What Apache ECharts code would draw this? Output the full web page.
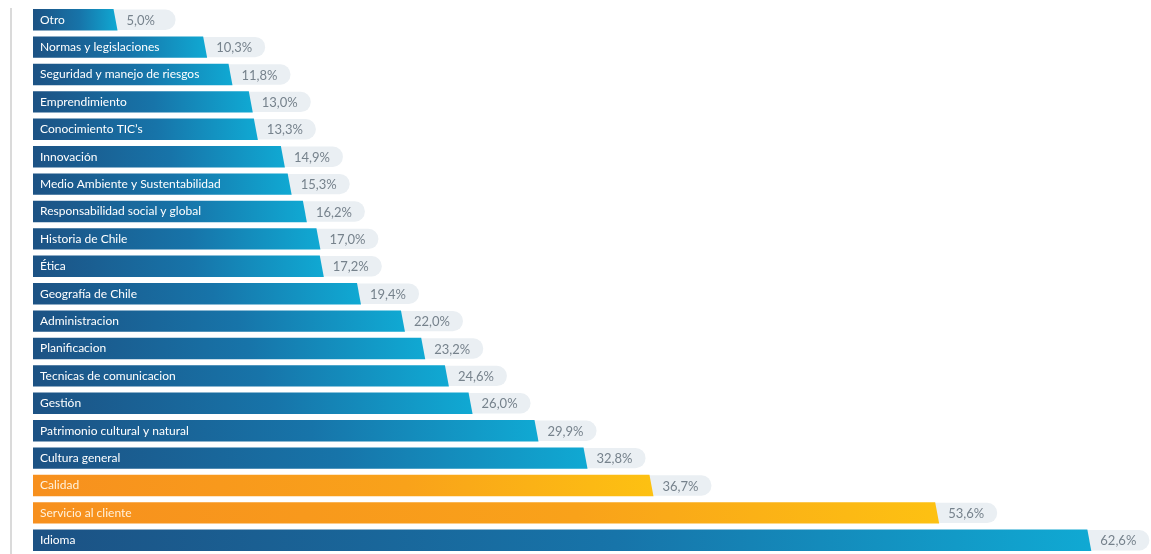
<!DOCTYPE html>
<html>
<head>
<meta charset="utf-8">
<script src="https://cdn.jsdelivr.net/npm/echarts@6/dist/echarts.min.js"></script>
<style>
  html, body { margin: 0; padding: 0; background: #ffffff; }
  #chart { width: 1151px; height: 554px; }
</style>
</head>
<body>
<div id="chart"></div>
<script>
const categories = [
  'Otro', 'Normas y legislaciones', 'Seguridad y manejo de riesgos', 'Emprendimiento',
  'Conocimiento TIC\u2019s', 'Innovación', 'Medio Ambiente y Sustentabilidad',
  'Responsabilidad social y global', 'Historia de Chile', 'Ética', 'Geografía de Chile',
  'Administracion', 'Planificacion', 'Tecnicas de comunicacion', 'Gestión',
  'Patrimonio cultural y natural', 'Cultura general', 'Calidad', 'Servicio al cliente', 'Idioma'
];
const values = [5.0, 10.3, 11.8, 13.0, 13.3, 14.9, 15.3, 16.2, 17.0, 17.2, 19.4,
  22.0, 23.2, 24.6, 26.0, 29.9, 32.8, 36.7, 53.6, 62.6];
const highlighted = ['Calidad', 'Servicio al cliente'];

const chart = echarts.init(document.getElementById('chart'), null, { renderer: 'canvas' });

const seriesData = values.map((v, i) => [v, i]);

function fmt(v) { return v.toFixed(1).replace('.', ',') + '%'; }

const FONT = '"Lato", "Noto Sans", sans-serif';

chart.setOption({
  animation: false,
  graphic: [{
    type: 'line',
    shape: { x1: 11, y1: 8, x2: 11, y2: 554 },
    style: { stroke: '#dadada', lineWidth: 2 },
    z: 0
  }],
  grid: { left: 33, top: 6, width: 1082, height: 552, containLabel: false },
  xAxis: {
    type: 'value', min: 0, max: 64, show: false
  },
  yAxis: {
    type: 'category', data: categories, inverse: true,
    axisLine: { show: false },
    axisTick: { show: false }, axisLabel: { show: false }, splitLine: { show: false }
  },
  series: [{
    type: 'custom',
    data: seriesData,
    encode: { x: 0, y: 1 },
    clip: false,
    renderItem: function (params, api) {
      const v = api.value(0);
      const c = api.value(1);
      const name = categories[c];
      const end = api.coord([v, c]);
      const start = api.coord([0, c]);
      const band = api.size([0, 1])[1];
      const h = band * 0.78;
      const y0 = end[1] - h / 2;
      const isHi = highlighted.indexOf(name) >= 0;
      const grad = isHi
        ? new echarts.graphic.LinearGradient(0, 0, 1, 0, [
            { offset: 0, color: '#f7901e' }, { offset: 0.6, color: '#f9a21a' }, { offset: 1, color: '#fdc112' }])
        : new echarts.graphic.LinearGradient(0, 0, 1, 0, [
            { offset: 0, color: '#1c5284' }, { offset: 0.55, color: '#1774a9' }, { offset: 1, color: '#10a9d3' }]);
      return {
        type: 'group',
        children: [
          {
            type: 'rect',
            shape: { x: end[0] - 14, y: y0 + 0.5, width: 14 + 58, height: h - 1, r: 10 },
            style: { fill: '#eaeff3' }
          },
          {
            type: 'polygon',
            shape: { points: [[start[0], y0], [end[0] - 4, y0], [end[0], y0 + h], [start[0], y0 + h]] },
            style: { fill: grad }
          },
          {
            type: 'text',
            style: {
              text: name, x: start[0] + 7, y: end[1],
              verticalAlign: 'middle', align: 'left',
              fill: isHi ? '#fff1dc' : '#ffffff',
              font: '12px ' + FONT
            }
          },
          {
            type: 'text',
            style: {
              text: fmt(v), x: end[0] + 9, y: end[1] + 1,
              verticalAlign: 'middle', align: 'left',
              fill: '#76828c',
              font: '13px ' + FONT
            }
          }
        ]
      };
    }
  }]
});
</script>
</body>
</html>
